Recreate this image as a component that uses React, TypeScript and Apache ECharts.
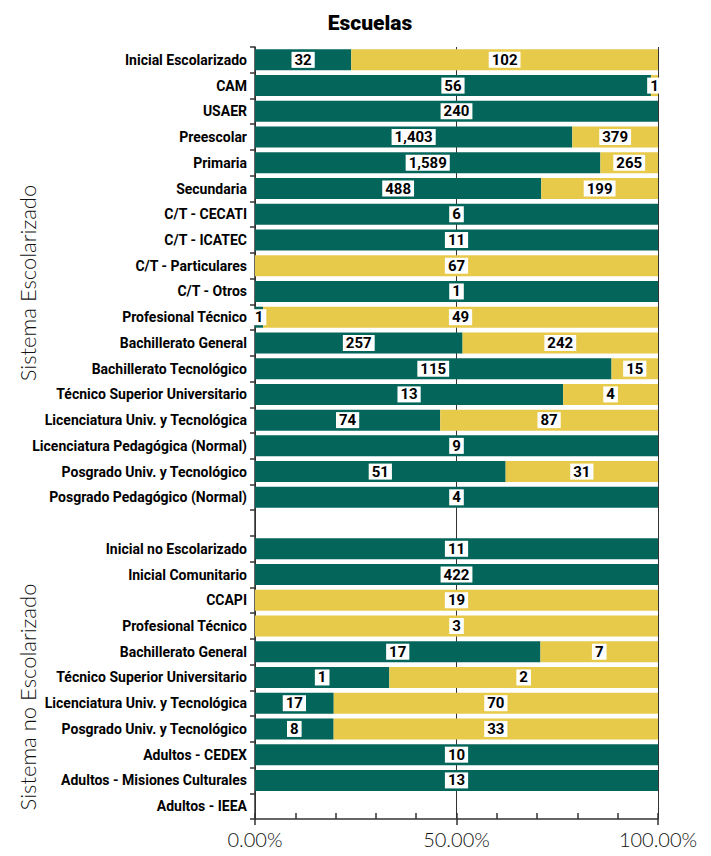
import React, { useEffect, useRef } from "react";
import * as echarts from "echarts";

const categories = [
  "Inicial Escolarizado",
  "CAM",
  "USAER",
  "Preescolar",
  "Primaria",
  "Secundaria",
  "C/T - CECATI",
  "C/T - ICATEC",
  "C/T - Particulares",
  "C/T - Otros",
  "Profesional Técnico",
  "Bachillerato General",
  "Bachillerato Tecnológico",
  "Técnico Superior Universitario",
  "Licenciatura Univ. y Tecnológica",
  "Licenciatura Pedagógica (Normal)",
  "Posgrado Univ. y Tecnológico",
  "Posgrado Pedagógico (Normal)",
  "",
  "Inicial no Escolarizado",
  "Inicial Comunitario",
  "CCAPI",
  "Profesional Técnico",
  "Bachillerato General",
  "Técnico Superior Universitario",
  "Licenciatura Univ. y Tecnológica",
  "Posgrado Univ. y Tecnológico",
  "Adultos - CEDEX",
  "Adultos - Misiones Culturales",
  "Adultos - IEEA",
];

const greenValues = [
  32, 56, 240, 1403, 1589, 488, 6, 11, 0, 1, 1, 257, 115, 13, 74, 9, 51, 4,
  null,
  11, 422, 0, 0, 17, 1, 17, 8, 10, 13, null,
];

const yellowValues = [
  102, 1, 0, 379, 265, 199, 0, 0, 67, 0, 49, 242, 15, 4, 87, 0, 31, 0,
  null,
  0, 0, 19, 3, 7, 2, 70, 33, 0, 0, null,
];

const xTickValues = [0, 50, 100];

const groupLabels = ["Sistema Escolarizado", "Sistema no Escolarizado"];

const GREEN = "#04665A";
const YELLOW = "#E8CA4B";
const NARROW = "Roboto, sans-serif";

function toPct(part: number | null, other: number | null) {
  if (part == null || other == null) return null;
  const total = part + other;
  if (total === 0) return null;
  return (part / total) * 100;
}

function fmtNum(n: number) {
  return n.toLocaleString("en-US");
}

export default function App() {
  const ref = useRef<HTMLDivElement>(null);

  useEffect(() => {
    if (!ref.current) return;
    const chart = echarts.init(ref.current, undefined, { renderer: "svg" });

    const mk = (vals: (number | null)[], others: (number | null)[]) =>
      vals.map((v, i) => {
        const p = toPct(v, others[i]);
        return {
          value: p == null ? null : p,
          raw: v,
          label: { show: !!v },
        };
      });

    const labelOpt = {
      show: true,
      position: "inside",
      formatter: (p: any) => (p.data && p.data.raw ? fmtNum(p.data.raw) : ""),
      backgroundColor: "#ffffff",
      color: "#000000",
      fontFamily: NARROW,
      fontWeight: "bold",
      fontSize: 15,
      padding: [1, 3, 0, 3],
    };

    chart.setOption({
      animation: false,
      title: {
        text: "Escuelas",
        left: 365,
        top: 7,
        textAlign: "center",
        textStyle: {
          fontFamily: NARROW,
          fontWeight: 900,
          fontSize: 21,
          color: "#000",
        },
      },
      grid: { left: 255, right: 53, top: 47, bottom: 37, containLabel: false },
      xAxis: [
        {
          type: "value",
          min: 0,
          max: 100,
          interval: 50,
          position: "bottom",
          axisLine: { show: true, lineStyle: { color: "#333", width: 1.5 } },
          axisTick: { show: true, inside: false, length: 6, lineStyle: { color: "#333", width: 1.5 } },
          axisLabel: {
            formatter: (v: number) => (xTickValues.includes(v) ? v.toFixed(2) + "%" : ""),
            fontFamily: "Lato",
            fontWeight: 300,
            fontSize: 20,
            color: "#111",
            margin: 10,
          },
          splitLine: { show: true, lineStyle: { color: "#333", width: 1 } },
        },
        {
          type: "value",
          min: 0,
          max: 100,
          interval: 10,
          position: "bottom",
          axisLine: { show: false },
          axisTick: { show: true, inside: true, length: 6, lineStyle: { color: "#333", width: 1.5 } },
          axisLabel: { show: false },
          splitLine: { show: false },
        },
      ],
      yAxis: {
        type: "category",
        inverse: true,
        data: categories.map((_, i) => String(i)),
        axisLine: { show: true, lineStyle: { color: "#333", width: 1.5 } },
        axisTick: { show: true, length: 5, alignWithLabel: false, lineStyle: { color: "#333", width: 1.5 } },
        axisLabel: {
          formatter: (_v: string, i: number) => categories[i],
          fontFamily: NARROW,
          fontWeight: "bold",
          fontSize: 14,
          color: "#000",
          margin: 8,
          interval: 0,
        },
        splitLine: { show: false },
      },
      series: [
        {
          name: "green",
          type: "bar",
          stack: "total",
          xAxisIndex: 0,
          barWidth: 21,
          itemStyle: { color: GREEN },
          label: labelOpt,
          data: mk(greenValues, yellowValues),
        },
        {
          name: "yellow",
          type: "bar",
          stack: "total",
          xAxisIndex: 0,
          barWidth: 21,
          itemStyle: { color: YELLOW },
          label: labelOpt,
          data: mk(yellowValues, greenValues),
        },
      ],
      graphic: [
        {
          type: "text",
          x: 27,
          y: 283,
          rotation: Math.PI / 2,
          style: {
            text: groupLabels[0],
            textAlign: "center",
            textVerticalAlign: "middle",
            fontFamily: "Lato",
            fontWeight: 300,
            fontSize: 22,
            fill: "#111",
          },
        },
        {
          type: "text",
          x: 27,
          y: 697,
          rotation: Math.PI / 2,
          style: {
            text: groupLabels[1],
            textAlign: "center",
            textVerticalAlign: "middle",
            fontFamily: "Lato",
            fontWeight: 300,
            fontSize: 22,
            fill: "#111",
          },
        },
      ],
    });

    return () => chart.dispose();
  }, []);

  return (
    <div
      ref={ref}
      style={{ position: "fixed", left: 0, top: 0, width: 711, height: 856, background: "#fff" }}
    />
  );
}
